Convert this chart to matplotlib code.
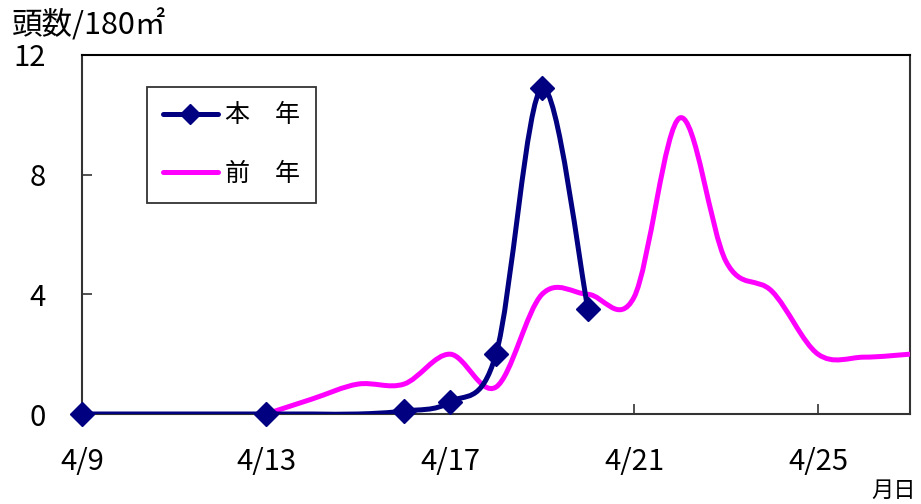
import matplotlib
matplotlib.use("Agg")
import matplotlib.pyplot as plt
from matplotlib.path import Path
from matplotlib.patches import PathPatch
from matplotlib.lines import Line2D
import numpy as np

plt.rcParams['font.family'] = ['Noto Sans CJK JP', 'DejaVu Sans']

# --- data -------------------------------------------------------------
# day of April
this_year_days = [9, 13, 14, 15, 16, 17, 18, 19, 20]
this_year_vals = [0, 0, 0, 0, 0.1, 0.4, 2.0, 10.9, 3.5]
this_year_marker_days = [9, 13, 16, 17, 18, 19, 20]

last_year_days = [13, 14, 15, 16, 17, 18, 19, 20, 21, 22, 23, 24, 25, 26, 27]
last_year_vals = [0, 0.5, 1.0, 1.0, 2.0, 0.9, 4.0, 4.0, 3.9, 9.9, 5.1, 4.1, 2.0, 1.9, 2.0]

x_tick_days = [9, 13, 17, 21, 25]
x_tick_labels = ["4/9", "4/13", "4/17", "4/21", "4/25"]
y_ticks = [0, 4, 8, 12]

series_names = ["本　年", "前　年"]
y_title = "頭数/180㎡"
x_title = "月日"

NAVY = "#000080"
MAGENTA = "#FF00FF"


def smooth_path(xs, ys):
    """Bezier path through the points, spreadsheet-style smoothing."""
    p = np.column_stack([xs, ys]).astype(float)
    n = len(p)
    verts = [p[0]]
    codes = [Path.MOVETO]
    for i in range(n - 1):
        p0 = p[i - 1] if i > 0 else p[i]
        p1, p2 = p[i], p[i + 1]
        p3 = p[i + 2] if i + 2 < n else p[i + 1]
        c1 = p1 + (p2 - p0) / 6.0
        c2 = p2 - (p3 - p1) / 6.0
        verts += [c1, c2, p2]
        codes += [Path.CURVE4] * 3
    return Path(verts, codes)


fig = plt.figure(figsize=(9.21, 5.04), dpi=100)
fig_w, fig_h = 921, 504
ax = fig.add_axes([82 / fig_w, 1 - 414 / fig_h, (910 - 82) / fig_w, (414 - 55) / fig_h])

lw = 3.6
ax.add_patch(PathPatch(smooth_path(last_year_days, last_year_vals), fill=False,
                       edgecolor=MAGENTA, lw=lw, capstyle='round', joinstyle='round',
                       zorder=3))
ax.add_patch(PathPatch(smooth_path(this_year_days, this_year_vals), fill=False,
                       edgecolor=NAVY, lw=lw, capstyle='round', joinstyle='round',
                       zorder=4))
mk_vals = [this_year_vals[this_year_days.index(d)] for d in this_year_marker_days]
ax.plot(this_year_marker_days, mk_vals, ls='none', marker='D', ms=12.5,
        color=NAVY, zorder=5, clip_on=False)

ax.set_xlim(9, 27)
ax.set_ylim(0, 12)
ax.set_xticks(x_tick_days)
ax.set_xticklabels(x_tick_labels)
ax.set_yticks(y_ticks)
ax.set_yticklabels([str(v) for v in y_ticks])
ax.tick_params(axis='both', direction='in', length=7, width=1.2, color='#333333',
               labelsize=21)
ax.tick_params(axis='y', pad=26)
ax.tick_params(axis='x', pad=24)
for s in ax.spines.values():
    s.set_linewidth(1.5)
    s.set_color('#333333')
ax.spines['top'].set_color('black')

handles = [
    Line2D([], [], color=NAVY, lw=lw, marker='D', ms=10, solid_capstyle='round'),
    Line2D([], [], color=MAGENTA, lw=lw, solid_capstyle='round'),
]
leg = ax.legend(handles, series_names, loc='upper left',
                bbox_to_anchor=(147 / fig_w, 1 - 87 / fig_h), bbox_transform=fig.transFigure,
                borderaxespad=0, fontsize=18, handlelength=2.2, handletextpad=0.3,
                labelspacing=1.3, borderpad=0.62, fancybox=False, framealpha=1,
                edgecolor='#333333')
leg.get_frame().set_linewidth(1.3)

fig.text(12 / fig_w, 1 - 25 / fig_h, y_title, fontsize=22, ha='left', va='center')
fig.text(916 / fig_w, 1 - 490 / fig_h, x_title, fontsize=16, ha='right', va='center')

fig.savefig("out.png", dpi=100)
